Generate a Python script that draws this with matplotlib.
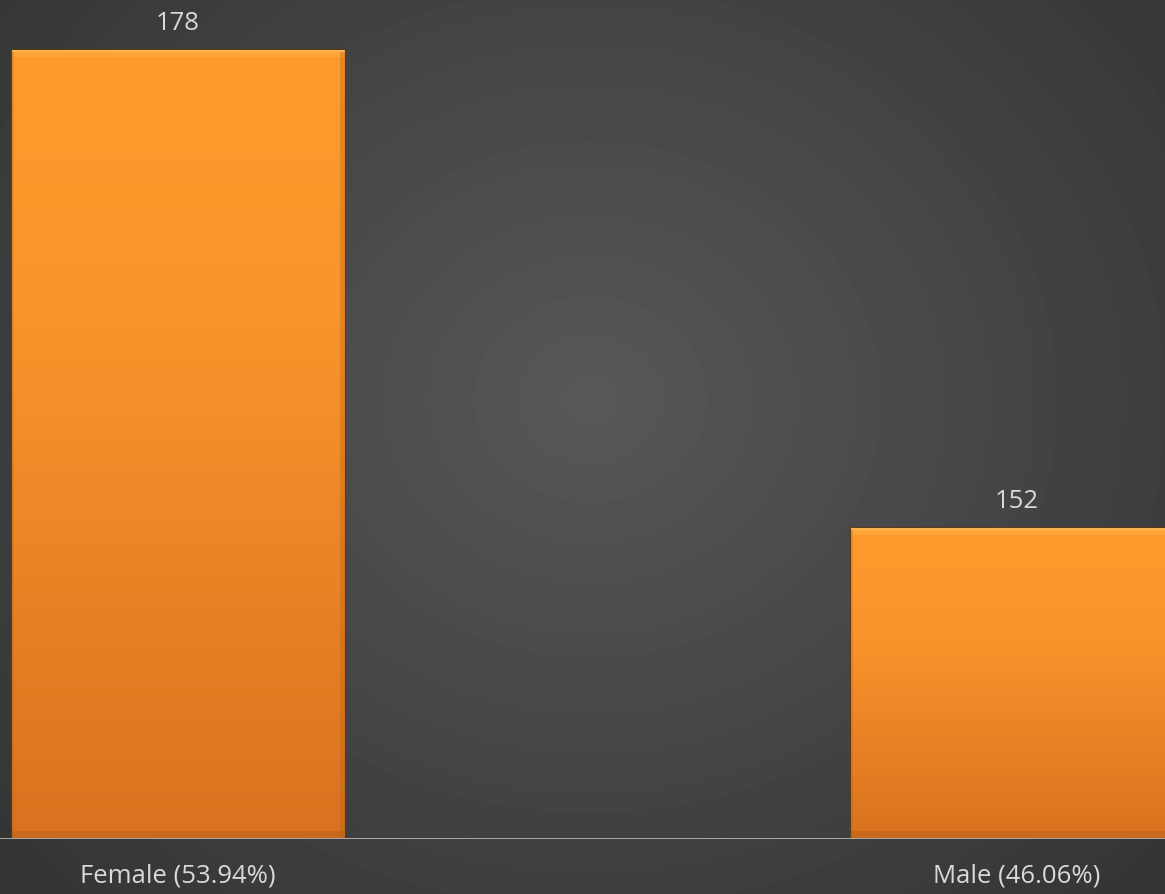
import numpy as np
import matplotlib.pyplot as plt
from matplotlib.colors import LinearSegmentedColormap

categories = ['Female (53.94%)', 'Male (46.06%)']
counts = [178, 152]

W, H = 1165, 895
fig = plt.figure(figsize=(W / 100, H / 100), dpi=100)

# background: dark radial gradient
bg = fig.add_axes([0, 0, 1, 1])
yy, xx = np.mgrid[0:H, 0:W]
r = np.hypot((xx - 590) / 700.0, (yy - 400) / 620.0)
shade = np.clip(0.345 - 0.125 * r, 0.205, 0.345)
bg.imshow(shade, cmap='gray', vmin=0, vmax=1, aspect='auto', extent=[0, 1, 0, 1],
          interpolation='bilinear')
bg.set_xlim(0, 1)
bg.set_ylim(0, 1)
bg.axis('off')

ax = fig.add_axes([0, (H - 840) / H, 1, 840 / H])
ax.patch.set_alpha(0)
x = np.arange(len(categories))
ax.set_xlim(-178 / 839, (1165 - 178) / 839)
ax.set_ylim(135, 180.72)

bw = 0.398
bars = ax.bar(x, counts, width=bw, color='#f28a26', linewidth=0, zorder=2)

orange = LinearSegmentedColormap.from_list('o', ['#d8721f', '#ea8326', '#fa952c', '#ff9a2e'])
grad = np.linspace(0, 1, 256).reshape(-1, 1)
y0 = ax.get_ylim()[0]
py = 1 / 18.385  # one pixel in data units on y
px = 1 / 839.0   # one pixel in data units on x
for b, v in zip(bars, counts):
    l = b.get_x()
    im = ax.imshow(grad, cmap=orange, aspect='auto', origin='lower',
                   extent=[l, l + bw, y0, v], zorder=3)
    im.set_clip_path(b)
    # bevel: light top lip, darker right side and bottom lip
    ax.fill_between([l, l + bw], v - 8 * py, v, color='#ffb347', alpha=0.45, zorder=4, lw=0)
    ax.fill_between([l, l + bw], v - 3 * py, v, color='#ffc766', alpha=0.6, zorder=4, lw=0)
    ax.fill_between([l + bw - 5 * px, l + bw], y0, v - 3 * py, color='#b86414', alpha=0.35, zorder=4, lw=0)
    ax.fill_between([l, l + 3 * px], y0, v - 3 * py, color='#b86414', alpha=0.25, zorder=4, lw=0)
    ax.fill_between([l, l + bw], y0, y0 + 8 * py, color='#b25c16', alpha=0.4, zorder=4, lw=0)
    ax.bar(l + bw / 2, v - y0, bottom=y0, width=bw, fill=False,
           edgecolor='#5e3a16', linewidth=0.8, zorder=5)
    ax.text(l + bw / 2, v + 26 * py, str(v), ha='center', va='center',
            color='#d9d9d9', fontsize=18.5, family='Open Sans')

ax.axhline(y0, color='#a6a6a6', lw=2.2, zorder=6)
for s in ax.spines.values():
    s.set_visible(False)
ax.set_yticks([])
ax.set_xticks(x)
ax.set_xticklabels(categories, color='#d9d9d9', fontsize=18.5, family='Open Sans')
ax.tick_params(axis='x', length=0, pad=17)

fig.savefig('out.png', dpi=100)
